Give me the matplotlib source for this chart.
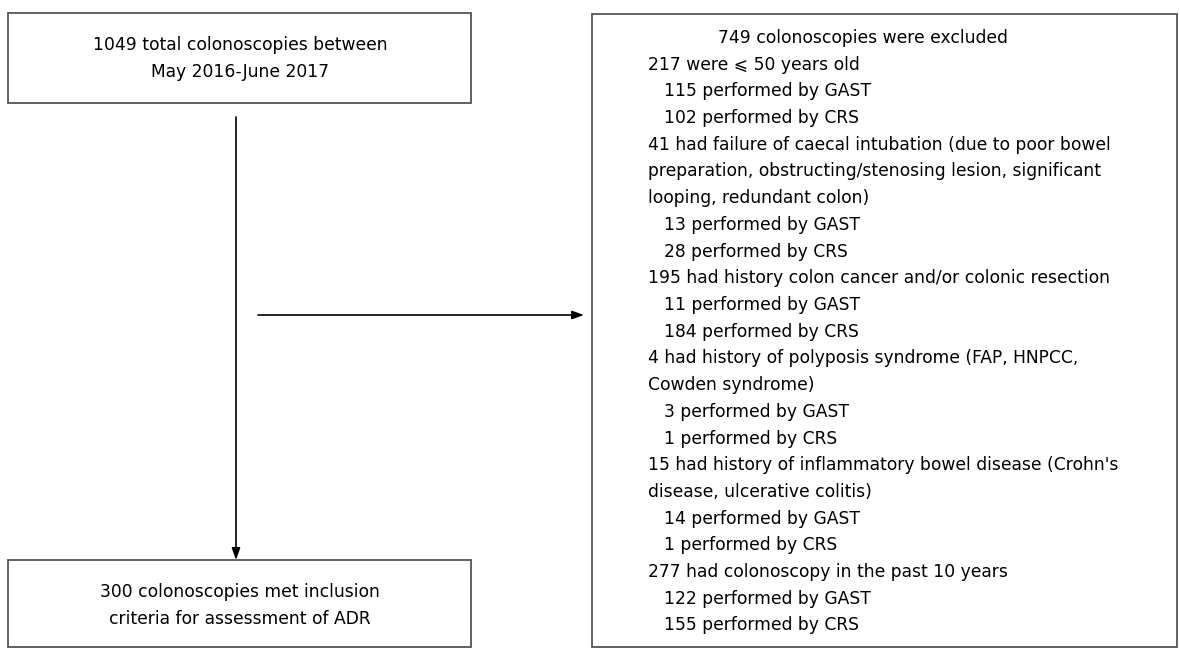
import matplotlib
matplotlib.use('Agg')
import matplotlib.pyplot as plt
from matplotlib.patches import Rectangle

plt.rcParams['font.family'] = ['DejaVu Sans', 'Noto Sans CJK JP']

# box texts
top_text = ['1049 total colonoscopies between', 'May 2016-June 2017']
bottom_text = ['300 colonoscopies met inclusion', 'criteria for assessment of ADR']
excl_title = '749 colonoscopies were excluded'

# exclusion lines: (indent level, text)
excl_lines = [
    (0, '217 were \u2a7d 50 years old'),
    (1, '115 performed by GAST'),
    (1, '102 performed by CRS'),
    (0, '41 had failure of caecal intubation (due to poor bowel'),
    (0, 'preparation, obstructing/stenosing lesion, significant'),
    (0, 'looping, redundant colon)'),
    (1, '13 performed by GAST'),
    (1, '28 performed by CRS'),
    (0, '195 had history colon cancer and/or colonic resection'),
    (1, '11 performed by GAST'),
    (1, '184 performed by CRS'),
    (0, '4 had history of polyposis syndrome (FAP, HNPCC,'),
    (0, 'Cowden syndrome)'),
    (1, '3 performed by GAST'),
    (1, '1 performed by CRS'),
    (0, "15 had history of inflammatory bowel disease (Crohn's"),
    (0, 'disease, ulcerative colitis)'),
    (1, '14 performed by GAST'),
    (1, '1 performed by CRS'),
    (0, '277 had colonoscopy in the past 10 years'),
    (1, '122 performed by GAST'),
    (1, '155 performed by CRS'),
]

W, H = 1180, 653
fig = plt.figure(figsize=(W / 100, H / 100), dpi=100)
ax = fig.add_axes([0, 0, 1, 1])
ax.set_xlim(0, W)
ax.set_ylim(H, 0)
ax.axis('off')

fs = 12.3
edge = '#555555'
step = 26.7

# boxes
ax.add_patch(Rectangle((8, 13), 463, 90, fill=False, ec=edge, lw=1.3))
ax.add_patch(Rectangle((8, 560), 463, 87, fill=False, ec=edge, lw=1.3))
ax.add_patch(Rectangle((592, 14), 585, 633, fill=False, ec=edge, lw=1.3))

# top box text
for i, t in enumerate(top_text):
    ax.text(240, 45 + i * step, t, ha='center', va='center', fontsize=fs)

# bottom box text
for i, t in enumerate(bottom_text):
    ax.text(240, 592 + i * step, t, ha='center', va='center', fontsize=fs)

# exclusion box
ax.text(718, 38, excl_title, ha='left', va='center', fontsize=fs)
for i, (lvl, t) in enumerate(excl_lines):
    ax.text(648 + lvl * 16, 38 + (i + 1) * step, t, ha='left', va='center', fontsize=fs)

# arrows
arrow = dict(arrowstyle='-|>,head_length=0.7,head_width=0.25', color='black',
             lw=1.2, shrinkA=0, shrinkB=0)
ax.annotate('', xy=(236, 560), xytext=(236, 117), arrowprops=arrow)
ax.annotate('', xy=(584, 315), xytext=(258, 315), arrowprops=arrow)

plt.savefig('out.png', dpi=100)
